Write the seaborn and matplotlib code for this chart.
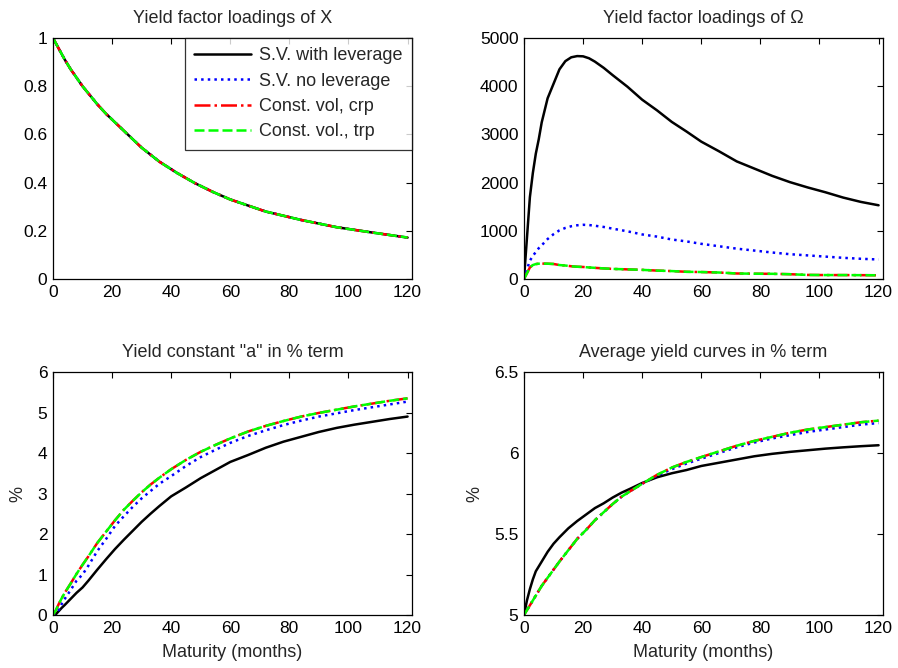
import numpy as np
import pandas as pd
import seaborn as sns
import matplotlib
matplotlib.use("Agg")
import matplotlib.pyplot as plt
from matplotlib.ticker import FuncFormatter

# ---- data (maturity in months) ----
mat_x = [0, 2, 4, 6, 8, 10, 12, 15, 18, 21, 24, 30, 36, 42, 48, 54, 60, 72, 84, 96, 108, 120]
load_x = [1.0, 0.955, 0.91, 0.87, 0.835, 0.80, 0.77, 0.725, 0.685, 0.65, 0.615, 0.545,
          0.487, 0.44, 0.398, 0.362, 0.33, 0.28, 0.245, 0.215, 0.193, 0.172]

mat_om = [0, 1, 2, 3, 4, 5, 6, 8, 10, 12, 14, 16, 18, 20, 22, 24, 27, 30, 35, 40, 45, 50,
          55, 60, 66, 72, 78, 84, 90, 96, 102, 108, 114, 120]
om_sv_lev = [0, 850, 1700, 2200, 2600, 2900, 3250, 3750, 4050, 4350, 4520, 4600, 4625, 4620,
             4580, 4510, 4380, 4230, 3990, 3720, 3500, 3260, 3060, 2850, 2650, 2440, 2290,
             2140, 2010, 1900, 1800, 1690, 1600, 1530]
om_sv_nolev = [0, 200, 380, 480, 560, 640, 700, 830, 930, 1010, 1060, 1095, 1115, 1125, 1120,
               1105, 1080, 1045, 990, 925, 880, 820, 780, 730, 680, 630, 590, 550, 515, 490,
               465, 440, 420, 405]
om_const = [0, 120, 240, 290, 310, 318, 320, 318, 312, 290, 280, 265, 255, 250, 240, 232, 220,
            210, 200, 190, 175, 165, 150, 145, 135, 115, 110, 108, 100, 85, 82, 82, 80, 78]

mat_a = [0, 1, 2, 3, 4, 6, 8, 10, 12, 15, 18, 21, 24, 27, 30, 33, 36, 40, 45, 50, 55, 60,
         66, 72, 78, 84, 90, 96, 102, 108, 114, 120]
a_sv_lev = [0, 0.02, 0.1, 0.18, 0.25, 0.40, 0.55, 0.68, 0.85, 1.12, 1.38, 1.63, 1.86, 2.08,
            2.30, 2.50, 2.69, 2.93, 3.15, 3.38, 3.58, 3.78, 3.95, 4.13, 4.28, 4.40, 4.52,
            4.62, 4.70, 4.77, 4.84, 4.90]
a_sv_nolev = [0, 0.05, 0.13, 0.28, 0.40, 0.62, 0.85, 1.00, 1.22, 1.58, 1.88, 2.20, 2.44, 2.67,
              2.88, 3.06, 3.24, 3.43, 3.68, 3.90, 4.08, 4.25, 4.42, 4.56, 4.69, 4.80, 4.90,
              4.98, 5.06, 5.13, 5.20, 5.27]
a_const = [0, 0.12, 0.28, 0.42, 0.55, 0.78, 1.02, 1.24, 1.45, 1.78, 2.06, 2.34, 2.60, 2.82,
           3.03, 3.22, 3.39, 3.60, 3.83, 4.03, 4.20, 4.36, 4.53, 4.67, 4.79, 4.90, 4.99,
           5.07, 5.15, 5.22, 5.29, 5.35]

y_sv_lev = [5.0, 5.09, 5.16, 5.22, 5.27, 5.33, 5.39, 5.44, 5.48, 5.535, 5.58, 5.62, 5.66,
            5.69, 5.725, 5.755, 5.78, 5.815, 5.85, 5.875, 5.895, 5.92, 5.94, 5.96, 5.98,
            5.995, 6.007, 6.017, 6.027, 6.035, 6.042, 6.048]
y_sv_nolev = [5.0, 5.03, 5.06, 5.09, 5.12, 5.18, 5.23, 5.28, 5.33, 5.40, 5.47, 5.525, 5.585,
              5.635, 5.685, 5.73, 5.765, 5.81, 5.86, 5.90, 5.935, 5.965, 6.0, 6.035, 6.065,
              6.09, 6.11, 6.13, 6.145, 6.16, 6.175, 6.185]
y_const = [5.0, 5.03, 5.06, 5.09, 5.12, 5.18, 5.23, 5.28, 5.33, 5.40, 5.47, 5.525, 5.585,
           5.635, 5.685, 5.73, 5.765, 5.81, 5.865, 5.91, 5.945, 5.975, 6.01, 6.045, 6.075,
           6.10, 6.125, 6.145, 6.16, 6.175, 6.19, 6.20]

labels = ["S.V. with leverage", "S.V. no leverage", "Const. vol, crp", "Const. vol., trp"]

sns.set_style("white")
plt.rcParams["font.family"] = ["Liberation Sans", "DejaVu Sans"]
plt.rcParams["xtick.direction"] = "in"
plt.rcParams["ytick.direction"] = "in"

LW = 1.8
styles = [dict(color="black", linestyle="-"),
          dict(color="blue", linestyle=":"),
          dict(color="red", linestyle="-."),
          dict(color=(0, 1, 0), dashes=(4, 1.6))]

fig = plt.figure(figsize=(8.98, 6.68), dpi=100)
pos = [[0.059, 0.5823, 0.3998, 0.3608], [0.5835, 0.5823, 0.3998, 0.3608],
       [0.059, 0.0793, 0.3998, 0.3638], [0.5835, 0.0793, 0.3998, 0.3638]]
axes = [fig.add_axes(p) for p in pos]

panels = [
    (mat_x, [load_x, load_x, load_x, load_x], "Yield factor loadings of X", (0, 1), np.arange(0, 1.01, 0.2)),
    (mat_om, [om_sv_lev, om_sv_nolev, om_const, om_const], "Yield factor loadings of \u03a9", (0, 5000), np.arange(0, 5001, 1000)),
    (mat_a, [a_sv_lev, a_sv_nolev, a_const, a_const], 'Yield constant "a" in % term', (0, 6), np.arange(0, 7, 1)),
    (mat_a, [y_sv_lev, y_sv_nolev, y_const, y_const], "Average yield curves in % term", (5, 6.5), np.arange(5, 6.51, 0.5)),
]

fmt = FuncFormatter(lambda v, p: "{:g}".format(round(v, 6)))

for i, (ax, (mx, series, title, ylim, yt)) in enumerate(zip(axes, panels)):
    for vals, st, lab in zip(series, styles, labels):
        df = pd.DataFrame({"m": mx, "v": vals})
        sns.lineplot(data=df, x="m", y="v", ax=ax, lw=LW, label=lab if i == 0 else None, **st)
    ax.set_xlim(0, 121.5)
    ax.set_ylim(*ylim)
    ax.set_xticks(np.arange(0, 121, 20))
    ax.set_yticks(yt)
    ax.yaxis.set_major_formatter(fmt)
    ax.tick_params(which="both", top=True, right=True, length=4, width=0.8,
                   labelsize=12.5, pad=4, colors="black")
    for s in ax.spines.values():
        s.set_color("black")
        s.set_linewidth(0.9)
    ax.set_title(title, fontsize=13, pad=11)
    ax.set_xlabel("Maturity (months)" if i >= 2 else "", fontsize=13, labelpad=6)
    ax.set_ylabel("%" if i >= 2 else "", fontsize=13, labelpad=8)
    if i != 0 and ax.get_legend() is not None:
        ax.get_legend().remove()

leg = axes[0].legend(loc="upper right", borderaxespad=0, frameon=True, fancybox=False,
                     edgecolor="black", fontsize=13, handlelength=3.2, handletextpad=0.45,
                     labelspacing=0.47, borderpad=0.5)
leg.get_frame().set_linewidth(0.9)

fig.savefig("out.png", dpi=100)
